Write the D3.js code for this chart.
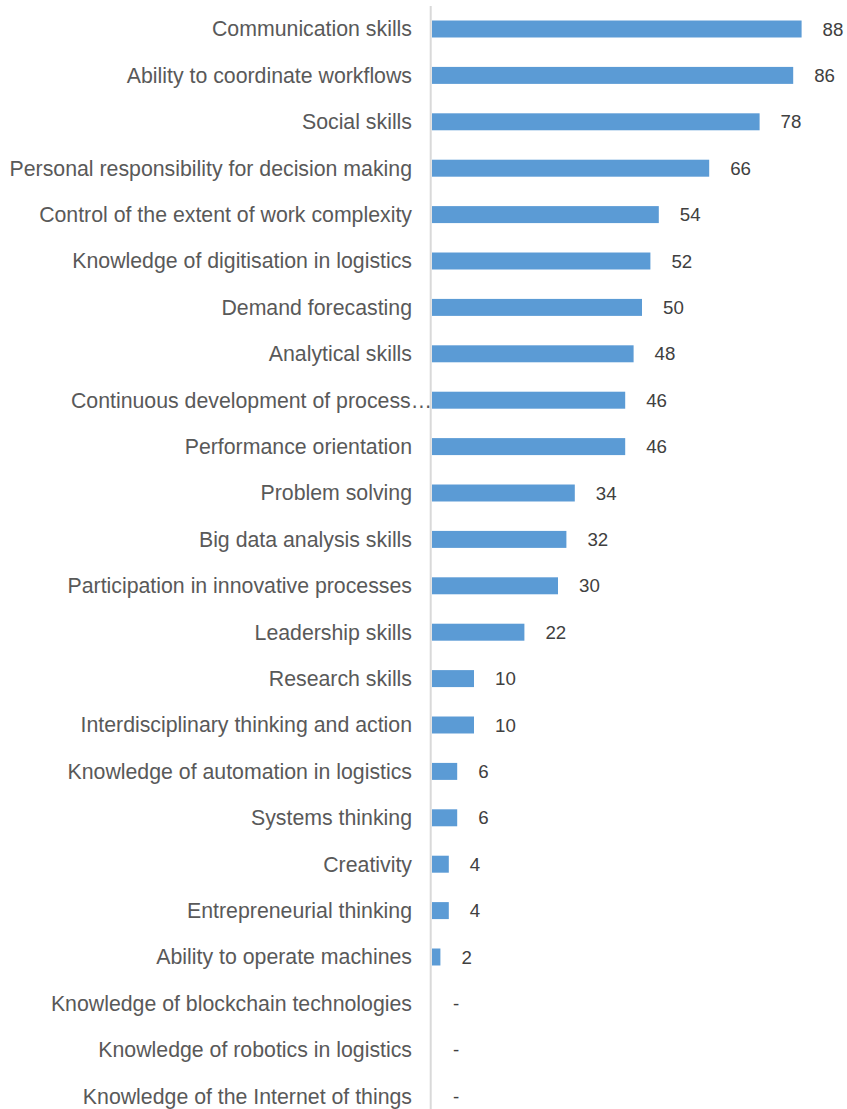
<!DOCTYPE html>
<html>
<head>
<meta charset="utf-8">
<script src="https://cdn.jsdelivr.net/npm/d3@7/dist/d3.min.js"></script>
<style>
  html, body { margin: 0; padding: 0; background: #ffffff; }
  svg { display: block; }
</style>
</head>
<body>
<div id="chart"></div>
<script>
// Skills ranked by share of mentions (%)
const categories = [
  "Communication skills",
  "Ability to coordinate workflows",
  "Social skills",
  "Personal responsibility for decision making",
  "Control of the extent of work complexity",
  "Knowledge of digitisation in logistics",
  "Demand forecasting",
  "Analytical skills",
  "Continuous development of process\u2026",
  "Performance orientation",
  "Problem solving",
  "Big data analysis skills",
  "Participation in innovative processes",
  "Leadership skills",
  "Research skills",
  "Interdisciplinary thinking and action",
  "Knowledge of automation in logistics",
  "Systems thinking",
  "Creativity",
  "Entrepreneurial thinking",
  "Ability to operate machines",
  "Knowledge of blockchain technologies",
  "Knowledge of robotics in logistics",
  "Knowledge of the Internet of things"
];
const values = [88, 86, 78, 66, 54, 52, 50, 48, 46, 46, 34, 32, 30, 22, 10, 10, 6, 6, 4, 4, 2, 0, 0, 0];

const width = 847, height = 1109;
const data = categories.map((c, i) => ({ name: c, value: values[i] }));

const svg = d3.select("#chart").append("svg")
  .attr("width", width)
  .attr("height", height);

const x = d3.scaleLinear().domain([0, 100]).range([432, 852]);
const y = d3.scaleBand()
  .domain(categories)
  .range([5.8, 1119.4])
  .paddingInner(0.634)
  .paddingOuter(0.317);

const labelFont = "'Liberation Sans', Arial, Helvetica, sans-serif";

// bars
svg.append("g").selectAll("rect")
  .data(data)
  .join("rect")
  .attr("x", x(0))
  .attr("y", d => y(d.name))
  .attr("width", d => x(d.value) - x(0))
  .attr("height", y.bandwidth())
  .attr("fill", "#5b9bd5");

// vertical category axis line
svg.append("line")
  .attr("x1", 430.7).attr("x2", 430.7)
  .attr("y1", 6).attr("y2", height)
  .attr("stroke", "#d9d9d9")
  .attr("stroke-width", 2);

// category labels (truncated ones run up to the axis)
svg.append("g").selectAll("text")
  .data(data)
  .join("text")
  .attr("x", d => d.name.endsWith("\u2026") ? 432 : 412)
  .attr("y", d => y(d.name) + y.bandwidth() / 2)
  .attr("dy", "0.35em")
  .attr("text-anchor", "end")
  .attr("font-family", labelFont)
  .attr("font-size", "21.3px")
  .attr("fill", "#595959")
  .text(d => d.name);

// value labels
svg.append("g").selectAll("text")
  .data(data)
  .join("text")
  .attr("x", d => x(d.value) + 21)
  .attr("y", d => y(d.name) + y.bandwidth() / 2)
  .attr("dy", "0.35em")
  .attr("text-anchor", "start")
  .attr("font-family", labelFont)
  .attr("font-size", "18.7px")
  .attr("fill", "#404040")
  .text(d => d.value === 0 ? "-" : d.value);
</script>
</body>
</html>
